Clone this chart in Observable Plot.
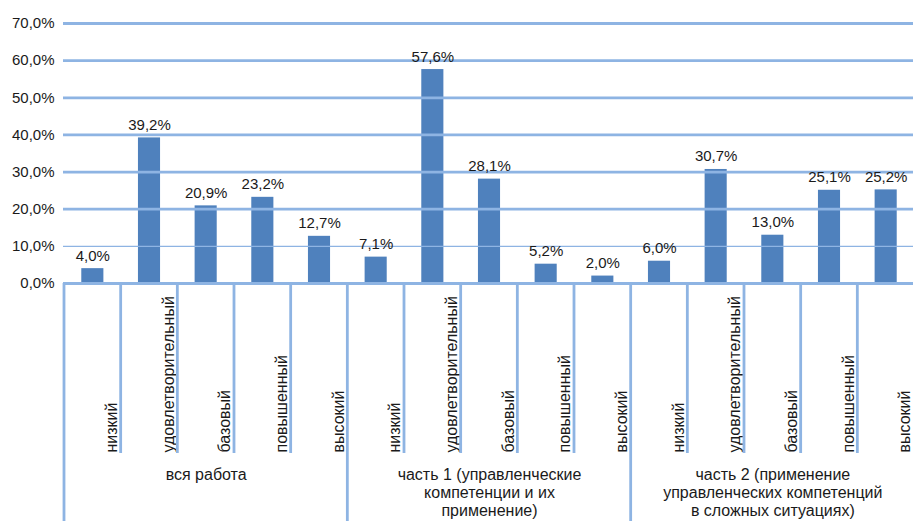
<!DOCTYPE html>
<html>
<head>
<meta charset="utf-8">
<script src="https://cdn.jsdelivr.net/npm/d3@7"></script>
<script src="https://cdn.jsdelivr.net/npm/@observablehq/plot@0.6"></script>
<style>
  html, body { margin: 0; padding: 0; background: #fff; overflow: hidden; }
  svg { display: block; }
</style>
</head>
<body>
<div id="chart"></div>
<script>
const groups = [
  "вся работа",
  "часть 1 (управленческие\nкомпетенции и их\nприменение)",
  "часть 2 (применение\nуправленческих компетенций\nв сложных ситуациях)"
];
const levels = ["низкий", "удовлетворительный", "базовый", "повышенный", "высокий"];
const valuesAll   = [4.0, 39.2, 20.9, 23.2, 12.7];
const valuesPart1 = [7.1, 57.6, 28.1, 5.2, 2.0];
const valuesPart2 = [6.0, 30.7, 13.0, 25.1, 25.2];
const seriesValues = [valuesAll, valuesPart1, valuesPart2];
const yTicks = [0, 10, 20, 30, 40, 50, 60, 70];

const rows = [];
groups.forEach((g, gi) => levels.forEach((l, li) => rows.push({
  key: gi + "|" + l, group: g, gi, level: l, li, value: seriesValues[gi][li]
})));
const keys = rows.map(d => d.key);
const groupRows = groups.map((g, gi) => ({group: g, key: gi + "|" + levels[2]}));

const fmt = v => v.toFixed(1).replace(".", ",") + "%";
const gridColor = "#8EB4E3";
const barColor = "#4F81BD";
const textColor = "#1a1a1a";
const font = "'Liberation Sans', Arial, sans-serif";

const chart = Plot.plot({
  width: 913,
  height: 521,
  marginLeft: 63,
  marginRight: 0,
  marginTop: 23,
  marginBottom: 238,
  style: {fontFamily: font, fontSize: "15px", color: textColor, background: "#fff"},
  x: {type: "band", domain: keys, range: [64, 914], paddingInner: 0.61, paddingOuter: 0.305, round: false, axis: null},
  y: {domain: [0, 70], range: [283, 23], label: null, axis: null},
  marks: [
    Plot.axisY({ticks: yTicks, tickFormat: fmt, tickSize: 0, tickPadding: 9, fontSize: 15, fill: textColor, label: null}),
    Plot.barY(rows, {x: "key", y: "value", fill: barColor}),
    Plot.ruleY(yTicks, {y: d => d, stroke: gridColor, strokeWidth: d => d === 10 ? 1.2 : 2.8}),
    Plot.text(rows, {x: "key", y: "value", text: d => fmt(d.value), lineAnchor: "bottom", dy: -8, fontSize: 15, fill: textColor}),
    Plot.text(rows, {x: "key", y: () => 0, text: "level", rotate: -90, textAnchor: "start", lineAnchor: "middle", dx: 19, dy: 169, fontSize: 16, fill: textColor}),
    Plot.text(groupRows, {x: "key", y: () => 0, text: "group", lineAnchor: "top", lineHeight: 1.15, dy: 183, fontSize: 16, fill: textColor})
  ]
});

// category separators, positioned from the Plot x scale
const sx = chart.scale("x");
const y0 = chart.scale("y").apply(0);
const gap = (sx.step - sx.bandwidth) / 2;
const svg = d3.select(chart);
const sep = svg.append("g").attr("stroke", gridColor).attr("stroke-width", 2.8);
keys.forEach((k, i) => {
  const xb = sx.apply(k) - gap;
  const isGroupEdge = i % levels.length === 0;
  sep.append("line")
    .attr("x1", xb).attr("x2", xb)
    .attr("y1", y0).attr("y2", isGroupEdge ? 521 : 453);
});

document.getElementById("chart").appendChild(chart);
</script>
</body>
</html>
